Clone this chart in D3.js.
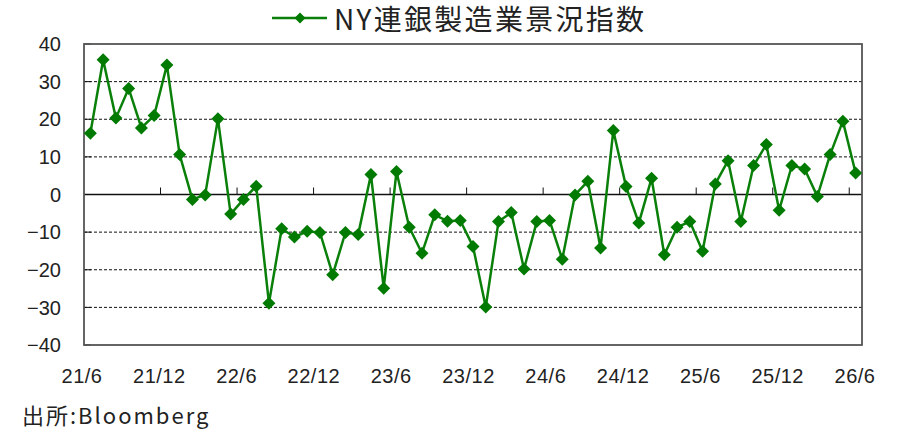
<!DOCTYPE html>
<html>
<head>
<meta charset="utf-8">
<script src="https://cdn.jsdelivr.net/npm/d3@7"></script>
<style>
  body { margin: 0; background: #fff; }
  svg { display: block; }
  .lbl { font-family: "Liberation Sans", Arial, sans-serif; font-size: 20px; fill: #222; }
  .cjk { font-family: "Noto Sans CJK JP", sans-serif; fill: #222; }
</style>
</head>
<body>
<div id="chart"></div>
<script>
// NY Fed Empire State manufacturing index, monthly 2021/6 - 2026/6
let seriesName = "NY連銀製造業景況指数";
let sourceText = "出所:Bloomberg";
let months = d3.timeMonth.range(new Date(2021, 5, 1), new Date(2026, 6, 1));
let values = [
  16.3, 35.8, 20.3, 28.2, 17.7, 21.0, 34.4, 10.6, -1.3, -0.1,
  20.1, -5.2, -1.3, 2.2, -28.9, -9.1, -11.3, -9.8, -10.1, -21.3,
  -10.1, -10.6, 5.3, -24.9, 6.1, -8.7, -15.6, -5.4, -7.1, -6.9,
  -13.8, -29.9, -7.2, -4.8, -19.8, -7.2, -6.9, -17.2, -0.1, 3.5,
  -14.2, 17.0, 2.1, -7.6, 4.3, -16.0, -8.7, -7.2, -15.1, 2.8,
  9.0, -7.2, 7.7, 13.3, -4.2, 7.7, 6.8, -0.5, 10.6, 19.5, 5.7
];
let tickLabels = ["21/6", "21/12", "22/6", "22/12", "23/6", "23/12", "24/6", "24/12", "25/6", "25/12", "26/6"];
let yTicks = [40, 30, 20, 10, 0, -10, -20, -30, -40];

let width = 897, height = 434;
let plotLeft = 84, plotRight = 862, plotTop = 44, plotBottom = 345;

let svg = d3.select("#chart").append("svg")
  .attr("width", width)
  .attr("height", height);

let x = d3.scaleBand().domain(d3.range(months.length)).range([plotLeft, plotRight]).padding(0);
let y = d3.scaleLinear().domain([-40, 40]).range([plotBottom, plotTop]);
let labelX = d3.scalePoint().domain(tickLabels).range([82, 855]);
let cx = i => x(i) + x.bandwidth() / 2;

// dashed gridlines
svg.append("g").selectAll("line")
  .data(yTicks.filter(d => d != 0 && d != 40 && d != -40))
  .enter().append("line")
  .attr("x1", plotLeft).attr("x2", plotRight)
  .attr("y1", d => y(d)).attr("y2", d => y(d))
  .attr("stroke", "#111").attr("stroke-width", 1)
  .attr("stroke-dasharray", "3,2");

// y ticks inside the left border
svg.append("g").selectAll("line")
  .data(yTicks)
  .enter().append("line")
  .attr("x1", plotLeft).attr("x2", plotLeft + 7)
  .attr("y1", d => y(d)).attr("y2", d => y(d))
  .attr("stroke", "#111").attr("stroke-width", 1);

// zero line with category ticks
svg.append("line")
  .attr("x1", plotLeft).attr("x2", plotRight)
  .attr("y1", y(0)).attr("y2", y(0))
  .attr("stroke", "#111").attr("stroke-width", 1.5);

svg.append("g").selectAll("line")
  .data(d3.range(6, months.length, 6))
  .enter().append("line")
  .attr("x1", d => x(d)).attr("x2", d => x(d))
  .attr("y1", y(0)).attr("y2", y(0) - 7)
  .attr("stroke", "#111").attr("stroke-width", 1);

// plot border
svg.append("rect")
  .attr("x", plotLeft).attr("y", plotTop)
  .attr("width", plotRight - plotLeft).attr("height", plotBottom - plotTop)
  .attr("fill", "none").attr("stroke", "#555").attr("stroke-width", 1.8);

// y labels
svg.append("g").selectAll("text")
  .data(yTicks)
  .enter().append("text")
  .attr("class", "lbl")
  .attr("x", 61).attr("y", d => y(d))
  .attr("dy", "0.36em")
  .attr("text-anchor", "end")
  .text(d => d < 0 ? "\u2212" + Math.abs(d) : d);

// x labels
svg.append("g").selectAll("text")
  .data(tickLabels)
  .enter().append("text")
  .attr("class", "lbl")
  .attr("x", d => labelX(d)).attr("y", 383)
  .attr("text-anchor", "middle")
  .attr("letter-spacing", "0.5px")
  .text(d => d);

// series
let diamond = "M0,-6.5L6.5,0L0,6.5L-6.5,0Z";
let line = d3.line().x((d, i) => cx(i)).y(d => y(d));

svg.append("path")
  .datum(values)
  .attr("d", line)
  .attr("fill", "none")
  .attr("stroke", "#0a800a").attr("stroke-width", 2.5)
  .attr("stroke-linejoin", "round");

svg.append("g").selectAll("path")
  .data(values)
  .enter().append("path")
  .attr("d", diamond)
  .attr("transform", (d, i) => "translate(" + cx(i) + "," + y(d) + ")")
  .attr("fill", "#007a00");

// legend / title
let legend = svg.append("g");
legend.append("line")
  .attr("x1", 272).attr("x2", 327).attr("y1", 18).attr("y2", 18)
  .attr("stroke", "#0a800a").attr("stroke-width", 2.5);
legend.append("path")
  .attr("d", diamond)
  .attr("transform", "translate(300,18) scale(0.85)")
  .attr("fill", "#007a00");
legend.append("text")
  .attr("class", "cjk")
  .attr("x", 334).attr("y", 30)
  .attr("font-size", "28px")
  .attr("letter-spacing", "2.3px")
  .text(seriesName);

// source
svg.append("text")
  .attr("class", "cjk")
  .attr("x", 22).attr("y", 424)
  .attr("font-size", "22px")
  .attr("letter-spacing", "2px")
  .text(sourceText);
</script>
</body>
</html>
